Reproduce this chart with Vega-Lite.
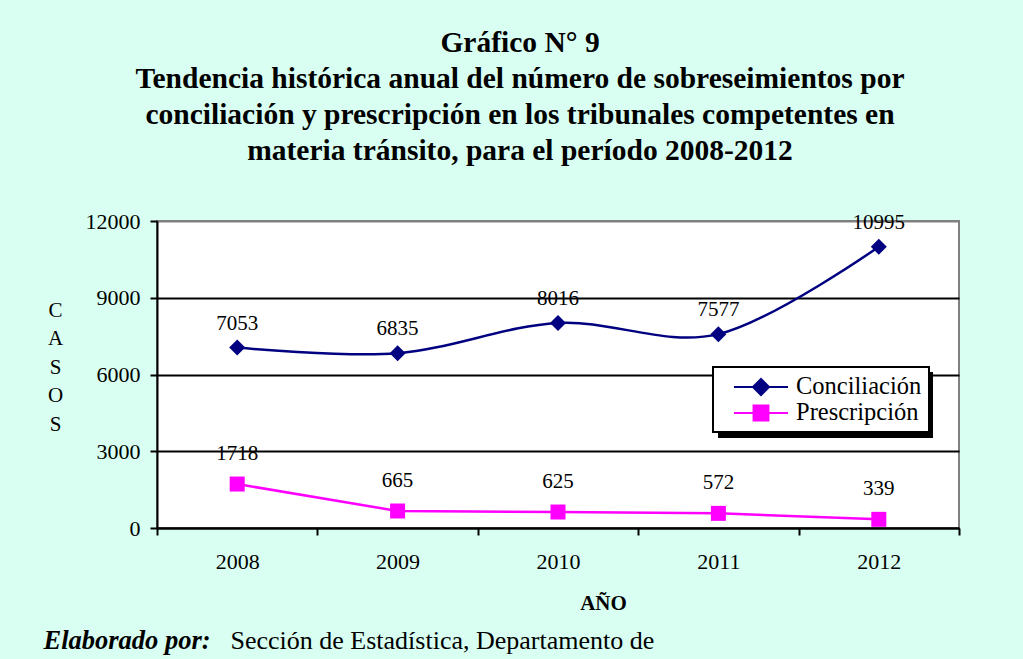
{
  "$schema": "https://vega.github.io/schema/vega-lite/v6.json",
  "autosize": {"type": "none"},
  "width": 802,
  "height": 307,
  "padding": {"left": 157, "top": 221, "right": 64, "bottom": 131},
  "background": "#D8FFF2",
  "config": {
    "font": "Liberation Serif",
    "view": {"fill": "white", "stroke": "#808080", "strokeWidth": 2}
  },
  "title": {
    "text": ["Gráfico N° 9", "Tendencia histórica anual del número de sobreseimientos por", "conciliación y prescripción en los tribunales competentes en", "materia tránsito, para el período 2008-2012"],
    "font": "Liberation Serif",
    "fontSize": 29.5,
    "fontWeight": "bold",
    "color": "black",
    "lineHeight": 36,
    "anchor": "middle",
    "dx": -38,
    "offset": 44
  },
  "datasets": {
    "main": [
      {"year": "2008", "serie": "Conciliación", "casos": 7053},
      {"year": "2009", "serie": "Conciliación", "casos": 6835},
      {"year": "2010", "serie": "Conciliación", "casos": 8016},
      {"year": "2011", "serie": "Conciliación", "casos": 7577},
      {"year": "2012", "serie": "Conciliación", "casos": 10995},
      {"year": "2008", "serie": "Prescripción", "casos": 1718},
      {"year": "2009", "serie": "Prescripción", "casos": 665},
      {"year": "2010", "serie": "Prescripción", "casos": 625},
      {"year": "2011", "serie": "Prescripción", "casos": 572},
      {"year": "2012", "serie": "Prescripción", "casos": 339}
    ],
    "foot": [{"f": "a"}]
  },
  "layer": [
    {
      "data": {"name": "main"},
      "encoding": {
        "x": {
          "field": "year", "type": "ordinal",
          "scale": {"type": "band", "paddingInner": 0, "paddingOuter": 0},
          "axis": {
            "orient": "bottom",
            "title": "AÑO", "titleFont": "Liberation Serif", "titleFontSize": 21, "titleFontWeight": "bold", "titleColor": "black",
            "titleX": 446, "titleY": 75, "titleAlign": "center", "titleBaseline": "middle",
            "labelAngle": 0, "labelFont": "Liberation Serif", "labelFontSize": 22, "labelColor": "black", "labelPadding": 16,
            "tickBand": "extent", "tickSize": 7, "tickWidth": 2, "tickColor": "black",
            "domainColor": "black", "domainWidth": 2, "grid": false
          }
        },
        "y": {
          "field": "casos", "type": "quantitative",
          "scale": {"domain": [0, 12000], "nice": false},
          "axis": {
            "values": [0, 3000, 6000, 9000, 12000], "format": "d",
            "title": ["C", "A", "S", "O", "S"], "titleAngle": 0, "titleFont": "Liberation Serif", "titleFontSize": 21, "titleFontWeight": "normal", "titleColor": "black",
            "titleX": -102, "titleY": 89, "titleAlign": "center", "titleBaseline": "middle", "titleLineHeight": 28.5,
            "labelFont": "Liberation Serif", "labelFontSize": 22, "labelColor": "black", "labelPadding": 10,
            "tickSize": 7, "tickWidth": 2, "tickColor": "black",
            "domainColor": "black", "domainWidth": 2,
            "grid": true, "gridWidth": 2,
            "gridColor": {"condition": {"test": "datum.value >= 12000", "value": "#808080"}, "value": "black"}
          }
        }
      },
      "layer": [
        {
          "transform": [{"filter": "datum.serie === 'Conciliación'"}],
          "mark": {"type": "line", "interpolate": "cardinal", "strokeWidth": 2.5},
          "encoding": {"color": {"field": "serie", "type": "nominal", "scale": {"domain": ["Conciliación", "Prescripción"], "range": ["#000080", "#FF00FF"]}, "legend": {
            "orient": "none", "legendX": 556, "legendY": 146, "title": null, "zindex": 2,
            "fillColor": "white", "strokeColor": "black", "padding": 7,
            "labelFont": "Liberation Serif", "labelFontSize": 24.5, "labelColor": "black", "labelOffset": 22,
            "symbolSize": 576, "symbolStrokeWidth": 2, "symbolOffset": 28, "rowPadding": 0,
            "encode": {
              "legend": {"update": {"strokeWidth": {"value": 2}}},
              "symbols": {"update": {
                "shape": {"signal": "datum.value === 'Conciliación' ? 'M-2.25,0H2.25M0,-0.67L0.67,0L0,0.67L-0.67,0Z' : 'M-2.25,0H2.25M-0.62,-0.62H0.62V0.62H-0.62Z'"},
                "fill": {"signal": "datum.value === 'Conciliación' ? '#000080' : '#FF00FF'"},
                "stroke": {"signal": "datum.value === 'Conciliación' ? '#000080' : '#FF00FF'"},
                "opacity": {"value": 1}
              }}
            }
          }}}
        },
        {
          "transform": [{"filter": "datum.serie === 'Prescripción'"}],
          "mark": {"type": "line", "strokeWidth": 2.5},
          "encoding": {
            "color": {"field": "serie", "type": "nominal"},
            "opacity": {"field": "serie", "type": "nominal", "scale": {"domain": ["Prescripción", "Conciliación"], "range": [1, 1]}, "legend": {
              "orient": "none", "legendX": 562, "legendY": 152, "title": null, "zindex": 1,
              "fillColor": "black", "strokeColor": "black", "padding": 7,
              "labelFont": "Liberation Serif", "labelFontSize": 24.5, "labelColor": "black", "labelOffset": 145,
              "labelExpr": "''",
              "symbolSize": 576, "symbolOffset": 28, "rowPadding": 0,
              "symbolFillColor": "black", "symbolStrokeColor": "black",
              "encode": {
                "legend": {"update": {"strokeWidth": {"value": 2}}},
                "symbols": {"update": {"fill": {"value": "black"}, "stroke": {"value": "black"}}}
              }
            }}
          }
        },
        {
          "transform": [{"filter": "datum.serie === 'Conciliación'"}],
          "mark": {"type": "point", "filled": true, "opacity": 1, "shape": "diamond", "size": 256},
          "encoding": {"color": {"field": "serie", "type": "nominal"}}
        },
        {
          "transform": [{"filter": "datum.serie === 'Prescripción'"}],
          "mark": {"type": "point", "filled": true, "opacity": 1, "shape": "square", "size": 225},
          "encoding": {"color": {"field": "serie", "type": "nominal"}}
        },
        {
          "transform": [{"filter": "datum.serie === 'Conciliación'"}],
          "mark": {"type": "text", "dy": -24, "font": "Liberation Serif", "fontSize": 21, "color": "black"},
          "encoding": {"text": {"field": "casos", "type": "quantitative", "format": "d"}}
        },
        {
          "transform": [{"filter": "datum.serie === 'Prescripción'"}],
          "mark": {"type": "text", "dy": -30, "font": "Liberation Serif", "fontSize": 21, "color": "black"},
          "encoding": {"text": {"field": "casos", "type": "quantitative", "format": "d"}}
        }
      ]
    },
    {
      "data": {"name": "foot"},
      "mark": {"type": "rule", "opacity": 0},
      "encoding": {
        "x": {"field": "f", "type": "nominal", "axis": {
          "orient": "bottom", "domain": false, "ticks": false, "labels": false, "grid": false,
          "title": "Elaborado por:", "titleFont": "Liberation Serif", "titleFontSize": 26.5, "titleFontWeight": "bold", "titleFontStyle": "italic", "titleColor": "black",
          "titleX": -114, "titleY": 112, "titleAlign": "left", "titleBaseline": "middle"
        }}
      }
    },
    {
      "data": {"name": "foot"},
      "mark": {"type": "rule", "opacity": 0},
      "encoding": {
        "x": {"field": "f", "type": "nominal", "axis": {
          "orient": "bottom", "domain": false, "ticks": false, "labels": false, "grid": false,
          "title": "Sección de Estadística, Departamento de", "titleFont": "Liberation Serif", "titleFontSize": 26, "titleFontWeight": "normal", "titleColor": "black",
          "titleX": 73, "titleY": 112, "titleAlign": "left", "titleBaseline": "middle"
        }}
      }
    }
  ],
  "resolve": {"scale": {"x": "independent"}, "axis": {"x": "independent"}}
}
